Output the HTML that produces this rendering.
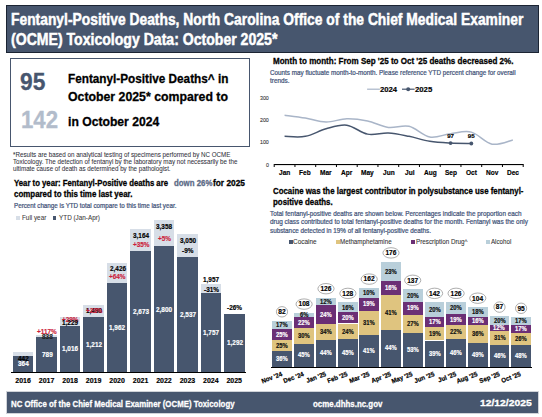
<!DOCTYPE html>
<html><head><meta charset="utf-8">
<style>
html,body{margin:0;padding:0;background:#fff;}
body{width:542px;height:417px;position:relative;overflow:hidden;font-family:"Liberation Sans",sans-serif;}
span{position:absolute;white-space:pre;line-height:1;transform-origin:0 0;}
div{position:absolute;}
svg{position:absolute;left:0;top:0;}
</style></head><body>
<div style="left:6.00px;top:5.00px;width:533.00px;height:48.00px;background:#47566e;box-sizing:border-box;border:1px solid #1b2433;"></div>
<span style="left:11.07px;top:12.00px;font-size:16.70px;font-weight:700;color:#fff;transform:scaleX(0.8295);-webkit-text-stroke:0.5px #fff;">Fentanyl-Positive Deaths, North Carolina Office of the Chief Medical Examiner</span>
<span style="left:11.00px;top:32.00px;font-size:16.70px;font-weight:700;color:#fff;transform:scaleX(0.8433);-webkit-text-stroke:0.5px #fff;">(OCME) Toxicology Data: October 2025*</span>
<div style="left:10.00px;top:58.00px;width:240.00px;height:89.00px;background:transparent;box-sizing:border-box;border:1.3px solid #47566e;"></div>
<span style="left:20.42px;top:71.00px;font-size:23.00px;font-weight:700;color:#47566e;transform:scaleX(0.9885);-webkit-text-stroke:0.3px #47566e;">95</span>
<span style="left:21.07px;top:109.00px;font-size:23.00px;font-weight:700;color:#b2bccb;transform:scaleX(0.9637);-webkit-text-stroke:0.3px #b2bccb;">142</span>
<span style="left:67.69px;top:73.00px;font-size:12.90px;font-weight:700;color:#000;transform:scaleX(0.9117);-webkit-text-stroke:0.3px #000;">Fentanyl-Positive Deaths^ in</span>
<span style="left:67.91px;top:91.00px;font-size:12.90px;font-weight:700;color:#000;transform:scaleX(0.9540);-webkit-text-stroke:0.3px #000;">October 2025* compared to</span>
<span style="left:67.55px;top:116.00px;font-size:12.90px;font-weight:700;color:#000;transform:scaleX(0.9432);-webkit-text-stroke:0.3px #000;">in October 2024</span>
<span style="left:13.08px;top:152.00px;font-size:6.60px;font-weight:400;color:#333340;transform:scaleX(0.9464);-webkit-text-stroke:0.06px #333340;">*Results are based on analytical testing of specimens performed by NC OCME</span>
<span style="left:13.38px;top:159.00px;font-size:6.60px;font-weight:400;color:#333340;transform:scaleX(0.9460);-webkit-text-stroke:0.06px #333340;">Toxicology. The detection of fentanyl by the laboratory may not necessarily be the</span>
<span style="left:12.83px;top:166.00px;font-size:6.60px;font-weight:400;color:#333340;transform:scaleX(0.9428);-webkit-text-stroke:0.06px #333340;">ultimate cause of death as determined by the pathologist.</span>
<span style="left:14.24px;top:179.00px;font-size:9.30px;font-weight:700;color:#000;transform:scaleX(0.8350);-webkit-text-stroke:0.3px #000;">Year to year: Fentanyl-Positive deaths are</span>
<span style="left:173.69px;top:179.00px;font-size:9.30px;font-weight:700;color:#5b6a86;transform:scaleX(0.8437);-webkit-text-stroke:0.3px #5b6a86;">down 26%</span>
<span style="left:213.02px;top:179.00px;font-size:9.30px;font-weight:700;color:#000;transform:scaleX(0.8942);-webkit-text-stroke:0.3px #000;">for 2025</span>
<span style="left:14.08px;top:190.00px;font-size:9.30px;font-weight:700;color:#000;transform:scaleX(0.8521);-webkit-text-stroke:0.3px #000;">compared to this time last year.</span>
<span style="left:13.70px;top:203.00px;font-size:6.30px;font-weight:400;color:#44557a;transform:scaleX(0.9922);-webkit-text-stroke:0.22px #44557a;">Percent change is YTD total compare to this time last year.</span>
<div style="left:16.20px;top:215.90px;width:3.90px;height:3.90px;background:#d7dee7;"></div>
<span style="left:22.39px;top:215.00px;font-size:6.90px;font-weight:400;color:#404040;transform:scaleX(0.9184);-webkit-text-stroke:0.08px #404040;">Full year</span>
<div style="left:52.60px;top:215.90px;width:3.70px;height:3.90px;background:#47566e;"></div>
<span style="left:58.57px;top:215.00px;font-size:6.90px;font-weight:400;color:#404040;transform:scaleX(0.9229);-webkit-text-stroke:0.08px #404040;">YTD (Jan-Apr)</span>
<div style="left:12.80px;top:352.10px;width:20.50px;height:19.90px;background:#d7dee7;"></div>
<div style="left:12.80px;top:355.80px;width:20.50px;height:16.20px;background:#47566e;"></div>
<span style="left:15.28px;top:377.00px;font-size:7.00px;font-weight:700;color:#000;-webkit-text-stroke:0.16px #000;">2016</span>
<div style="left:36.30px;top:335.20px;width:20.50px;height:36.80px;background:#d7dee7;"></div>
<div style="left:36.30px;top:336.80px;width:20.50px;height:35.20px;background:#47566e;"></div>
<span style="left:38.81px;top:377.00px;font-size:7.00px;font-weight:700;color:#000;-webkit-text-stroke:0.16px #000;">2017</span>
<div style="left:59.80px;top:316.50px;width:20.50px;height:55.50px;background:#d7dee7;"></div>
<div style="left:59.80px;top:326.00px;width:20.50px;height:46.00px;background:#47566e;"></div>
<span style="left:62.24px;top:377.00px;font-size:7.00px;font-weight:700;color:#000;-webkit-text-stroke:0.16px #000;">2018</span>
<div style="left:83.30px;top:304.90px;width:20.50px;height:67.10px;background:#d7dee7;"></div>
<div style="left:83.30px;top:317.10px;width:20.50px;height:54.90px;background:#47566e;"></div>
<span style="left:85.78px;top:377.00px;font-size:7.00px;font-weight:700;color:#000;-webkit-text-stroke:0.16px #000;">2019</span>
<div style="left:106.80px;top:262.50px;width:20.50px;height:109.50px;background:#d7dee7;"></div>
<div style="left:106.80px;top:282.70px;width:20.50px;height:89.30px;background:#47566e;"></div>
<span style="left:109.28px;top:377.00px;font-size:7.00px;font-weight:700;color:#000;-webkit-text-stroke:0.16px #000;">2020</span>
<div style="left:130.30px;top:229.00px;width:20.50px;height:143.00px;background:#d7dee7;"></div>
<div style="left:130.30px;top:251.00px;width:20.50px;height:121.00px;background:#47566e;"></div>
<span style="left:132.75px;top:377.00px;font-size:7.00px;font-weight:700;color:#000;-webkit-text-stroke:0.16px #000;">2021</span>
<div style="left:153.70px;top:220.10px;width:20.50px;height:151.90px;background:#d7dee7;"></div>
<div style="left:153.70px;top:245.60px;width:20.50px;height:126.40px;background:#47566e;"></div>
<span style="left:156.18px;top:377.00px;font-size:7.00px;font-weight:700;color:#000;-webkit-text-stroke:0.16px #000;">2022</span>
<div style="left:177.20px;top:234.20px;width:20.50px;height:137.80px;background:#d7dee7;"></div>
<div style="left:177.20px;top:257.10px;width:20.50px;height:114.90px;background:#47566e;"></div>
<span style="left:179.68px;top:377.00px;font-size:7.00px;font-weight:700;color:#000;-webkit-text-stroke:0.16px #000;">2023</span>
<div style="left:200.70px;top:283.80px;width:20.50px;height:88.20px;background:#d7dee7;"></div>
<div style="left:200.70px;top:293.00px;width:20.50px;height:79.00px;background:#47566e;"></div>
<span style="left:203.07px;top:377.00px;font-size:7.00px;font-weight:700;color:#000;-webkit-text-stroke:0.16px #000;">2024</span>
<div style="left:224.00px;top:313.80px;width:20.50px;height:58.20px;background:#47566e;"></div>
<span style="left:226.44px;top:377.00px;font-size:7.00px;font-weight:700;color:#000;-webkit-text-stroke:0.16px #000;">2025</span>
<div style="left:11.00px;top:371.80px;width:235.00px;height:1.10px;background:#000;"></div>
<span style="left:18.29px;top:356.00px;font-size:6.90px;font-weight:700;color:#000;transform:scaleX(0.9300);-webkit-text-stroke:0.16px #000;">442</span>
<span style="left:18.16px;top:361.00px;font-size:6.90px;font-weight:700;color:#fff;transform:scaleX(0.9300);-webkit-text-stroke:0.16px #fff;">364</span>
<span style="left:37.07px;top:329.00px;font-size:6.90px;font-weight:700;color:#cc1f3c;transform:scaleX(0.9300);-webkit-text-stroke:0.16px #cc1f3c;">+117%</span>
<span style="left:41.69px;top:334.00px;font-size:6.90px;font-weight:700;color:#222;transform:scaleX(0.9300);-webkit-text-stroke:0.16px #222;">838</span>
<span style="left:41.69px;top:352.00px;font-size:6.90px;font-weight:700;color:#fff;transform:scaleX(0.9300);-webkit-text-stroke:0.16px #fff;">789</span>
<span style="left:62.18px;top:317.00px;font-size:6.90px;font-weight:700;color:#cc1f3c;transform:scaleX(0.9300);-webkit-text-stroke:0.16px #cc1f3c;">+29%</span>
<span style="left:62.43px;top:320.00px;font-size:6.90px;font-weight:700;color:#000;transform:scaleX(0.9300);-webkit-text-stroke:0.16px #000;">1,229</span>
<span style="left:62.43px;top:346.00px;font-size:6.90px;font-weight:700;color:#fff;transform:scaleX(0.9300);-webkit-text-stroke:0.16px #fff;">1,016</span>
<span style="left:85.93px;top:308.00px;font-size:6.90px;font-weight:700;color:#000;transform:scaleX(0.9300);-webkit-text-stroke:0.16px #000;">1,490</span>
<span style="left:85.68px;top:308.00px;font-size:6.90px;font-weight:700;color:#cc1f3c;transform:scaleX(0.9300);-webkit-text-stroke:0.16px #cc1f3c;">+23%</span>
<span style="left:85.93px;top:342.00px;font-size:6.90px;font-weight:700;color:#fff;transform:scaleX(0.9300);-webkit-text-stroke:0.16px #fff;">1,212</span>
<span style="left:109.53px;top:266.00px;font-size:6.90px;font-weight:700;color:#000;transform:scaleX(0.9300);-webkit-text-stroke:0.16px #000;">2,426</span>
<span style="left:109.18px;top:274.00px;font-size:6.90px;font-weight:700;color:#cc1f3c;transform:scaleX(0.9300);-webkit-text-stroke:0.16px #cc1f3c;">+64%</span>
<span style="left:109.43px;top:325.00px;font-size:6.90px;font-weight:700;color:#fff;transform:scaleX(0.9300);-webkit-text-stroke:0.16px #fff;">1,962</span>
<span style="left:132.96px;top:233.00px;font-size:6.90px;font-weight:700;color:#000;transform:scaleX(0.9300);-webkit-text-stroke:0.16px #000;">3,164</span>
<span style="left:132.68px;top:242.00px;font-size:6.90px;font-weight:700;color:#cc1f3c;transform:scaleX(0.9300);-webkit-text-stroke:0.16px #cc1f3c;">+35%</span>
<span style="left:133.03px;top:309.00px;font-size:6.90px;font-weight:700;color:#fff;transform:scaleX(0.9300);-webkit-text-stroke:0.16px #fff;">2,673</span>
<span style="left:156.43px;top:224.00px;font-size:6.90px;font-weight:700;color:#000;transform:scaleX(0.9300);-webkit-text-stroke:0.16px #000;">3,358</span>
<span style="left:157.87px;top:236.00px;font-size:6.90px;font-weight:700;color:#cc1f3c;transform:scaleX(0.9300);-webkit-text-stroke:0.16px #cc1f3c;">+5%</span>
<span style="left:156.43px;top:307.00px;font-size:6.90px;font-weight:700;color:#fff;transform:scaleX(0.9300);-webkit-text-stroke:0.16px #fff;">2,800</span>
<span style="left:179.96px;top:238.00px;font-size:6.90px;font-weight:700;color:#000;transform:scaleX(0.9300);-webkit-text-stroke:0.16px #000;">3,050</span>
<span style="left:182.17px;top:248.00px;font-size:6.90px;font-weight:700;color:#000;transform:scaleX(0.9300);-webkit-text-stroke:0.16px #000;">-9%</span>
<span style="left:179.96px;top:312.00px;font-size:6.90px;font-weight:700;color:#fff;transform:scaleX(0.9300);-webkit-text-stroke:0.16px #fff;">2,537</span>
<span style="left:203.36px;top:277.00px;font-size:6.90px;font-weight:700;color:#000;transform:scaleX(0.9300);-webkit-text-stroke:0.16px #000;">1,957</span>
<span style="left:203.88px;top:287.00px;font-size:6.90px;font-weight:700;color:#000;transform:scaleX(0.9300);-webkit-text-stroke:0.16px #000;">-31%</span>
<span style="left:203.36px;top:330.00px;font-size:6.90px;font-weight:700;color:#fff;transform:scaleX(0.9300);-webkit-text-stroke:0.16px #fff;">1,757</span>
<span style="left:227.18px;top:305.00px;font-size:6.90px;font-weight:700;color:#000;transform:scaleX(0.9300);-webkit-text-stroke:0.16px #000;">-26%</span>
<span style="left:226.63px;top:340.00px;font-size:6.90px;font-weight:700;color:#fff;transform:scaleX(0.9300);-webkit-text-stroke:0.16px #fff;">1,292</span>
<div style="left:6.00px;top:391.00px;width:533.00px;height:22.60px;background:#47566e;box-sizing:border-box;border:0.7px solid #d0d3d8;"></div>
<span style="left:10.63px;top:399.00px;font-size:9.80px;font-weight:700;color:#fff;transform:scaleX(0.8010);-webkit-text-stroke:0.3px #fff;">NC Office of the Chief Medical Examiner (OCME) Toxicology</span>
<span style="left:313.28px;top:399.00px;font-size:9.80px;font-weight:700;color:#fff;transform:scaleX(0.8065);-webkit-text-stroke:0.3px #fff;">ocme.dhhs.nc.gov</span>
<span style="left:480.38px;top:398.00px;font-size:9.40px;font-weight:700;color:#fff;transform:scaleX(1.1028);-webkit-text-stroke:0.3px #fff;">12/12/2025</span>
<svg width="542" height="417" viewBox="0 0 542 417">
<path d="M284.57,115.15 C288.03,115.63 298.41,116.90 305.32,118.05 C312.24,119.21 319.16,121.96 326.07,122.07 C332.99,122.18 339.91,118.91 346.82,118.72 C353.74,118.54 360.66,119.51 367.57,120.96 C374.49,122.41 381.41,126.54 388.32,127.43 C395.24,128.33 402.16,124.72 409.07,126.32 C415.99,127.92 422.91,135.81 429.82,137.03 C436.74,138.26 443.66,134.50 450.57,133.68 C457.49,132.87 464.41,130.37 471.32,132.12 C478.24,133.87 485.16,142.88 492.07,144.18 C498.99,145.48 509.37,140.64 512.83,139.94" fill="none" stroke="#a9b5c8" stroke-width="1.5"/>
<path d="M284.57,136.36 C288.03,136.36 298.41,137.63 305.32,136.36 C312.24,135.10 319.16,130.63 326.07,128.77 C332.99,126.91 339.91,124.31 346.82,125.20 C353.74,126.09 360.66,132.83 367.57,134.13 C374.49,135.43 381.41,132.64 388.32,133.01 C395.24,133.39 402.16,134.99 409.07,136.36 C415.99,137.74 422.91,140.16 429.82,141.28 C436.74,142.39 443.66,142.69 450.57,143.06 C457.49,143.44 467.87,143.44 471.32,143.51" fill="none" stroke="#47566e" stroke-width="1.5"/>
<circle cx="450.57" cy="143.06" r="1.9" fill="#47566e"/>
<circle cx="471.32" cy="143.51" r="1.9" fill="#47566e"/>
<rect x="274.20" y="164.00" width="249.00" height="1.1" fill="#000"/>
<rect x="273.70" y="164.00" width="1" height="3" fill="#000"/>
<rect x="294.45" y="164.00" width="1" height="3" fill="#000"/>
<rect x="315.20" y="164.00" width="1" height="3" fill="#000"/>
<rect x="335.95" y="164.00" width="1" height="3" fill="#000"/>
<rect x="356.70" y="164.00" width="1" height="3" fill="#000"/>
<rect x="377.45" y="164.00" width="1" height="3" fill="#000"/>
<rect x="398.20" y="164.00" width="1" height="3" fill="#000"/>
<rect x="418.95" y="164.00" width="1" height="3" fill="#000"/>
<rect x="439.70" y="164.00" width="1" height="3" fill="#000"/>
<rect x="460.45" y="164.00" width="1" height="3" fill="#000"/>
<rect x="481.20" y="164.00" width="1" height="3" fill="#000"/>
<rect x="501.95" y="164.00" width="1" height="3" fill="#000"/>
<rect x="522.70" y="164.00" width="1" height="3" fill="#000"/>
<rect x="367.1" y="88.6" width="12.8" height="1.2" fill="#a9b5c8"/>
<rect x="402" y="88.6" width="12.6" height="1.2" fill="#47566e"/>
<circle cx="408.2" cy="89.2" r="2.0" fill="#47566e"/>
<ellipse cx="282.00" cy="311.80" rx="5.60" ry="5.2" fill="#fff" stroke="#8a8a8a" stroke-width="0.7"/>
<ellipse cx="304.10" cy="304.10" rx="8.10" ry="5.2" fill="#fff" stroke="#8a8a8a" stroke-width="0.7"/>
<ellipse cx="326.00" cy="288.70" rx="8.10" ry="5.2" fill="#fff" stroke="#8a8a8a" stroke-width="0.7"/>
<ellipse cx="347.90" cy="293.40" rx="8.10" ry="5.2" fill="#fff" stroke="#8a8a8a" stroke-width="0.7"/>
<ellipse cx="369.20" cy="279.10" rx="8.10" ry="5.2" fill="#fff" stroke="#8a8a8a" stroke-width="0.7"/>
<ellipse cx="391.00" cy="252.90" rx="8.10" ry="5.2" fill="#fff" stroke="#8a8a8a" stroke-width="0.7"/>
<ellipse cx="412.70" cy="280.30" rx="8.10" ry="5.2" fill="#fff" stroke="#8a8a8a" stroke-width="0.7"/>
<ellipse cx="434.60" cy="293.35" rx="8.10" ry="5.2" fill="#fff" stroke="#8a8a8a" stroke-width="0.7"/>
<ellipse cx="456.10" cy="293.35" rx="8.10" ry="5.2" fill="#fff" stroke="#8a8a8a" stroke-width="0.7"/>
<ellipse cx="477.80" cy="298.20" rx="8.10" ry="5.2" fill="#fff" stroke="#8a8a8a" stroke-width="0.7"/>
<ellipse cx="499.50" cy="307.10" rx="5.60" ry="5.2" fill="#fff" stroke="#8a8a8a" stroke-width="0.7"/>
<ellipse cx="521.10" cy="308.30" rx="5.60" ry="5.2" fill="#fff" stroke="#8a8a8a" stroke-width="0.7"/>
</svg>
<span style="left:272.72px;top:56.00px;font-size:9.70px;font-weight:700;color:#000;transform:scaleX(0.8292);-webkit-text-stroke:0.3px #000;">Month to month: From Sep '25 to Oct '25 deaths decreased 2%.</span>
<span style="left:269.58px;top:70.00px;font-size:6.60px;font-weight:400;color:#44557a;transform:scaleX(0.9564);-webkit-text-stroke:0.22px #44557a;">Counts may fluctuate month-to-month. Please reference YTD percent change for overall</span>
<span style="left:269.84px;top:78.00px;font-size:6.60px;font-weight:400;color:#44557a;transform:scaleX(0.9674);-webkit-text-stroke:0.22px #44557a;">trends.</span>
<span style="left:380.27px;top:86.00px;font-size:7.00px;font-weight:700;color:#000;transform:scaleX(1.0959);-webkit-text-stroke:0.16px #000;">2024</span>
<span style="left:415.27px;top:86.00px;font-size:7.00px;font-weight:700;color:#000;transform:scaleX(1.1060);-webkit-text-stroke:0.16px #000;">2025</span>
<span style="left:259.99px;top:95.00px;font-size:6.00px;font-weight:400;color:#333;transform:scaleX(0.8800);-webkit-text-stroke:0.1px #333;">300</span>
<span style="left:259.99px;top:117.00px;font-size:6.00px;font-weight:400;color:#333;transform:scaleX(0.8800);-webkit-text-stroke:0.1px #333;">200</span>
<span style="left:259.99px;top:139.00px;font-size:6.00px;font-weight:400;color:#333;transform:scaleX(0.8800);-webkit-text-stroke:0.1px #333;">100</span>
<span style="left:265.85px;top:162.00px;font-size:6.00px;font-weight:400;color:#333;transform:scaleX(0.8800);-webkit-text-stroke:0.1px #333;">0</span>
<span style="left:279.10px;top:170.00px;font-size:6.90px;font-weight:700;color:#000;transform:scaleX(0.9500);-webkit-text-stroke:0.16px #000;">Jan</span>
<span style="left:299.43px;top:170.00px;font-size:6.90px;font-weight:700;color:#000;transform:scaleX(0.9500);-webkit-text-stroke:0.16px #000;">Feb</span>
<span style="left:320.08px;top:170.00px;font-size:6.90px;font-weight:700;color:#000;transform:scaleX(0.9500);-webkit-text-stroke:0.16px #000;">Mar</span>
<span style="left:341.15px;top:170.00px;font-size:6.90px;font-weight:700;color:#000;transform:scaleX(0.9500);-webkit-text-stroke:0.16px #000;">Apr</span>
<span style="left:361.02px;top:170.00px;font-size:6.90px;font-weight:700;color:#000;transform:scaleX(0.9500);-webkit-text-stroke:0.16px #000;">May</span>
<span style="left:382.65px;top:170.00px;font-size:6.90px;font-weight:700;color:#000;transform:scaleX(0.9500);-webkit-text-stroke:0.16px #000;">Jun</span>
<span style="left:404.52px;top:170.00px;font-size:6.90px;font-weight:700;color:#000;transform:scaleX(0.9500);-webkit-text-stroke:0.16px #000;">Jul</span>
<span style="left:423.60px;top:170.00px;font-size:6.90px;font-weight:700;color:#000;transform:scaleX(0.9500);-webkit-text-stroke:0.16px #000;">Aug</span>
<span style="left:444.61px;top:170.00px;font-size:6.90px;font-weight:700;color:#000;transform:scaleX(0.9500);-webkit-text-stroke:0.16px #000;">Sep</span>
<span style="left:465.79px;top:170.00px;font-size:6.90px;font-weight:700;color:#000;transform:scaleX(0.9500);-webkit-text-stroke:0.16px #000;">Oct</span>
<span style="left:485.72px;top:170.00px;font-size:6.90px;font-weight:700;color:#000;transform:scaleX(0.9500);-webkit-text-stroke:0.16px #000;">Nov</span>
<span style="left:506.70px;top:170.00px;font-size:6.90px;font-weight:700;color:#000;transform:scaleX(0.9500);-webkit-text-stroke:0.16px #000;">Dec</span>
<span style="left:447.17px;top:133.00px;font-size:6.20px;font-weight:700;color:#000;-webkit-text-stroke:0.16px #000;">97</span>
<span style="left:467.85px;top:133.00px;font-size:6.20px;font-weight:700;color:#000;-webkit-text-stroke:0.16px #000;">95</span>
<span style="left:272.69px;top:186.00px;font-size:9.60px;font-weight:700;color:#000;transform:scaleX(0.8184);-webkit-text-stroke:0.3px #000;">Cocaine was the largest contributor in polysubstance use fentanyl-</span>
<span style="left:272.53px;top:197.00px;font-size:9.60px;font-weight:700;color:#000;transform:scaleX(0.8230);-webkit-text-stroke:0.3px #000;">positive deaths.</span>
<span style="left:270.47px;top:211.00px;font-size:6.60px;font-weight:400;color:#44557a;transform:scaleX(0.9680);-webkit-text-stroke:0.22px #44557a;">Total fentanyl-positive deaths are shown below. Percentages indicate the proportion each</span>
<span style="left:270.34px;top:219.00px;font-size:6.60px;font-weight:400;color:#44557a;transform:scaleX(0.9717);-webkit-text-stroke:0.22px #44557a;">drug class contributed to total fentanyl-positive deaths for the month. Fentanyl was the only</span>
<span style="left:270.41px;top:228.00px;font-size:6.60px;font-weight:400;color:#44557a;transform:scaleX(0.9585);-webkit-text-stroke:0.22px #44557a;">substance detected in 19% of all fentanyl-positive deaths.</span>
<div style="left:288.80px;top:240.10px;width:4.00px;height:4.00px;background:#47566e;"></div>
<span style="left:293.18px;top:239.00px;font-size:6.60px;font-weight:400;color:#333;transform:scaleX(0.9761);-webkit-text-stroke:0.08px #333;">Cocaine</span>
<div style="left:335.90px;top:240.10px;width:4.00px;height:4.00px;background:#dfc47f;"></div>
<span style="left:340.00px;top:239.00px;font-size:6.60px;font-weight:400;color:#333;transform:scaleX(0.9451);-webkit-text-stroke:0.08px #333;">Methamphetamine</span>
<div style="left:410.70px;top:240.10px;width:4.00px;height:4.00px;background:#6b2f75;"></div>
<span style="left:415.50px;top:239.00px;font-size:6.60px;font-weight:400;color:#333;transform:scaleX(0.9521);-webkit-text-stroke:0.08px #333;">Prescription Drug^</span>
<div style="left:485.50px;top:240.10px;width:4.00px;height:4.00px;background:#b9cfda;"></div>
<span style="left:490.80px;top:239.00px;font-size:6.60px;font-weight:400;color:#333;transform:scaleX(0.9364);-webkit-text-stroke:0.08px #333;">Alcohol</span>
<div style="left:272.10px;top:320.70px;width:19.80px;height:8.60px;background:#b9cfda;"></div>
<div style="left:272.10px;top:329.30px;width:19.80px;height:10.90px;background:#6b2f75;"></div>
<div style="left:272.10px;top:340.20px;width:19.80px;height:11.10px;background:#dfc47f;"></div>
<div style="left:272.10px;top:351.30px;width:19.80px;height:15.30px;background:#47566e;"></div>
<span style="left:275.99px;top:322.00px;font-size:6.40px;font-weight:700;color:#111;transform:scaleX(0.9200);-webkit-text-stroke:0.16px #111;">17%</span>
<span style="left:276.08px;top:332.00px;font-size:6.40px;font-weight:700;color:#fff;transform:scaleX(0.9200);-webkit-text-stroke:0.16px #fff;">25%</span>
<span style="left:276.08px;top:343.00px;font-size:6.40px;font-weight:700;color:#111;transform:scaleX(0.9200);-webkit-text-stroke:0.16px #111;">25%</span>
<span style="left:276.11px;top:356.00px;font-size:6.40px;font-weight:700;color:#fff;transform:scaleX(0.9200);-webkit-text-stroke:0.16px #fff;">36%</span>
<span style="left:278.34px;top:309.00px;font-size:6.60px;font-weight:700;color:#000;-webkit-text-stroke:0.16px #000;">82</span>
<span style="left:257.84px;top:370.60px;width:22.86px;font-size:6.5px;font-weight:700;color:#000;transform-origin:100% 0;transform:rotate(-21deg) scaleX(0.95);-webkit-text-stroke:0.2px #000;">Nov '24</span>
<div style="left:294.20px;top:313.00px;width:19.80px;height:3.80px;background:#b9cfda;"></div>
<div style="left:294.20px;top:316.80px;width:19.80px;height:11.10px;background:#6b2f75;"></div>
<div style="left:294.20px;top:327.90px;width:19.80px;height:15.70px;background:#dfc47f;"></div>
<div style="left:294.20px;top:343.60px;width:19.80px;height:23.00px;background:#47566e;"></div>
<span style="left:299.80px;top:312.00px;font-size:6.40px;font-weight:700;color:#111;transform:scaleX(0.9200);-webkit-text-stroke:0.16px #111;">6%</span>
<span style="left:298.18px;top:320.00px;font-size:6.40px;font-weight:700;color:#fff;transform:scaleX(0.9200);-webkit-text-stroke:0.16px #fff;">22%</span>
<span style="left:298.21px;top:333.00px;font-size:6.40px;font-weight:700;color:#111;transform:scaleX(0.9200);-webkit-text-stroke:0.16px #111;">30%</span>
<span style="left:298.24px;top:352.00px;font-size:6.40px;font-weight:700;color:#fff;transform:scaleX(0.9200);-webkit-text-stroke:0.16px #fff;">45%</span>
<span style="left:298.49px;top:301.00px;font-size:6.60px;font-weight:700;color:#000;-webkit-text-stroke:0.16px #000;">108</span>
<span style="left:280.30px;top:370.60px;width:22.50px;font-size:6.5px;font-weight:700;color:#000;transform-origin:100% 0;transform:rotate(-21deg) scaleX(0.95);-webkit-text-stroke:0.2px #000;">Dec '24</span>
<div style="left:316.10px;top:297.60px;width:19.80px;height:7.80px;background:#b9cfda;"></div>
<div style="left:316.10px;top:305.40px;width:19.80px;height:18.70px;background:#6b2f75;"></div>
<div style="left:316.10px;top:324.10px;width:19.80px;height:15.60px;background:#dfc47f;"></div>
<div style="left:316.10px;top:339.70px;width:19.80px;height:26.90px;background:#47566e;"></div>
<span style="left:319.99px;top:299.00px;font-size:6.40px;font-weight:700;color:#111;transform:scaleX(0.9200);-webkit-text-stroke:0.16px #111;">12%</span>
<span style="left:320.08px;top:312.00px;font-size:6.40px;font-weight:700;color:#fff;transform:scaleX(0.9200);-webkit-text-stroke:0.16px #fff;">24%</span>
<span style="left:320.11px;top:329.00px;font-size:6.40px;font-weight:700;color:#111;transform:scaleX(0.9200);-webkit-text-stroke:0.16px #111;">34%</span>
<span style="left:320.14px;top:350.00px;font-size:6.40px;font-weight:700;color:#fff;transform:scaleX(0.9200);-webkit-text-stroke:0.16px #fff;">44%</span>
<span style="left:320.42px;top:286.00px;font-size:6.60px;font-weight:700;color:#000;-webkit-text-stroke:0.16px #000;">126</span>
<span style="left:302.92px;top:370.60px;width:21.78px;font-size:6.5px;font-weight:700;color:#000;transform-origin:100% 0;transform:rotate(-21deg) scaleX(0.95);-webkit-text-stroke:0.2px #000;">Jan '25</span>
<div style="left:338.00px;top:302.30px;width:19.80px;height:10.00px;background:#b9cfda;"></div>
<div style="left:338.00px;top:312.30px;width:19.80px;height:11.20px;background:#6b2f75;"></div>
<div style="left:338.00px;top:323.50px;width:19.80px;height:15.60px;background:#dfc47f;"></div>
<div style="left:338.00px;top:339.10px;width:19.80px;height:27.50px;background:#47566e;"></div>
<span style="left:341.89px;top:305.00px;font-size:6.40px;font-weight:700;color:#111;transform:scaleX(0.9200);-webkit-text-stroke:0.16px #111;">16%</span>
<span style="left:341.98px;top:315.00px;font-size:6.40px;font-weight:700;color:#fff;transform:scaleX(0.9200);-webkit-text-stroke:0.16px #fff;">20%</span>
<span style="left:341.98px;top:329.00px;font-size:6.40px;font-weight:700;color:#111;transform:scaleX(0.9200);-webkit-text-stroke:0.16px #111;">24%</span>
<span style="left:342.04px;top:350.00px;font-size:6.40px;font-weight:700;color:#fff;transform:scaleX(0.9200);-webkit-text-stroke:0.16px #fff;">45%</span>
<span style="left:342.29px;top:291.00px;font-size:6.60px;font-weight:700;color:#000;-webkit-text-stroke:0.16px #000;">128</span>
<span style="left:324.46px;top:370.60px;width:22.14px;font-size:6.5px;font-weight:700;color:#000;transform-origin:100% 0;transform:rotate(-21deg) scaleX(0.95);-webkit-text-stroke:0.2px #000;">Feb '25</span>
<div style="left:359.30px;top:288.00px;width:19.80px;height:9.50px;background:#b9cfda;"></div>
<div style="left:359.30px;top:297.50px;width:19.80px;height:13.30px;background:#6b2f75;"></div>
<div style="left:359.30px;top:310.80px;width:19.80px;height:24.00px;background:#dfc47f;"></div>
<div style="left:359.30px;top:334.80px;width:19.80px;height:31.80px;background:#47566e;"></div>
<span style="left:363.19px;top:290.00px;font-size:6.40px;font-weight:700;color:#111;transform:scaleX(0.9200);-webkit-text-stroke:0.16px #111;">10%</span>
<span style="left:363.19px;top:301.00px;font-size:6.40px;font-weight:700;color:#fff;transform:scaleX(0.9200);-webkit-text-stroke:0.16px #fff;">19%</span>
<span style="left:363.31px;top:320.00px;font-size:6.40px;font-weight:700;color:#111;transform:scaleX(0.9200);-webkit-text-stroke:0.16px #111;">31%</span>
<span style="left:363.34px;top:348.00px;font-size:6.40px;font-weight:700;color:#fff;transform:scaleX(0.9200);-webkit-text-stroke:0.16px #fff;">41%</span>
<span style="left:363.62px;top:276.00px;font-size:6.60px;font-weight:700;color:#000;-webkit-text-stroke:0.16px #000;">162</span>
<span style="left:345.76px;top:370.60px;width:22.14px;font-size:6.5px;font-weight:700;color:#000;transform-origin:100% 0;transform:rotate(-21deg) scaleX(0.95);-webkit-text-stroke:0.2px #000;">Mar '25</span>
<div style="left:381.10px;top:261.80px;width:19.80px;height:19.20px;background:#b9cfda;"></div>
<div style="left:381.10px;top:281.00px;width:19.80px;height:14.20px;background:#6b2f75;"></div>
<div style="left:381.10px;top:295.20px;width:19.80px;height:34.40px;background:#dfc47f;"></div>
<div style="left:381.10px;top:329.60px;width:19.80px;height:37.00px;background:#47566e;"></div>
<span style="left:385.08px;top:269.00px;font-size:6.40px;font-weight:700;color:#111;transform:scaleX(0.9200);-webkit-text-stroke:0.16px #111;">23%</span>
<span style="left:384.99px;top:285.00px;font-size:6.40px;font-weight:700;color:#fff;transform:scaleX(0.9200);-webkit-text-stroke:0.16px #fff;">16%</span>
<span style="left:385.14px;top:310.00px;font-size:6.40px;font-weight:700;color:#111;transform:scaleX(0.9200);-webkit-text-stroke:0.16px #111;">41%</span>
<span style="left:385.14px;top:345.00px;font-size:6.40px;font-weight:700;color:#fff;transform:scaleX(0.9200);-webkit-text-stroke:0.16px #fff;">44%</span>
<span style="left:385.42px;top:250.00px;font-size:6.60px;font-weight:700;color:#000;-webkit-text-stroke:0.16px #000;">176</span>
<span style="left:367.93px;top:370.60px;width:21.78px;font-size:6.5px;font-weight:700;color:#000;transform-origin:100% 0;transform:rotate(-21deg) scaleX(0.95);-webkit-text-stroke:0.2px #000;">Apr '25</span>
<div style="left:402.80px;top:289.20px;width:19.80px;height:12.80px;background:#b9cfda;"></div>
<div style="left:402.80px;top:302.00px;width:19.80px;height:12.50px;background:#6b2f75;"></div>
<div style="left:402.80px;top:314.50px;width:19.80px;height:18.20px;background:#dfc47f;"></div>
<div style="left:402.80px;top:332.70px;width:19.80px;height:33.90px;background:#47566e;"></div>
<span style="left:406.78px;top:293.00px;font-size:6.40px;font-weight:700;color:#111;transform:scaleX(0.9200);-webkit-text-stroke:0.16px #111;">20%</span>
<span style="left:406.69px;top:305.00px;font-size:6.40px;font-weight:700;color:#fff;transform:scaleX(0.9200);-webkit-text-stroke:0.16px #fff;">19%</span>
<span style="left:406.78px;top:321.00px;font-size:6.40px;font-weight:700;color:#111;transform:scaleX(0.9200);-webkit-text-stroke:0.16px #111;">27%</span>
<span style="left:406.78px;top:347.00px;font-size:6.40px;font-weight:700;color:#fff;transform:scaleX(0.9200);-webkit-text-stroke:0.16px #fff;">53%</span>
<span style="left:407.16px;top:278.00px;font-size:6.60px;font-weight:700;color:#000;-webkit-text-stroke:0.16px #000;">137</span>
<span style="left:388.18px;top:370.60px;width:23.22px;font-size:6.5px;font-weight:700;color:#000;transform-origin:100% 0;transform:rotate(-21deg) scaleX(0.95);-webkit-text-stroke:0.2px #000;">May '25</span>
<div style="left:424.70px;top:302.25px;width:19.80px;height:14.55px;background:#b9cfda;"></div>
<div style="left:424.70px;top:316.80px;width:19.80px;height:10.00px;background:#6b2f75;"></div>
<div style="left:424.70px;top:326.80px;width:19.80px;height:13.70px;background:#dfc47f;"></div>
<div style="left:424.70px;top:340.50px;width:19.80px;height:26.10px;background:#47566e;"></div>
<span style="left:428.68px;top:307.00px;font-size:6.40px;font-weight:700;color:#111;transform:scaleX(0.9200);-webkit-text-stroke:0.16px #111;">20%</span>
<span style="left:428.59px;top:319.00px;font-size:6.40px;font-weight:700;color:#fff;transform:scaleX(0.9200);-webkit-text-stroke:0.16px #fff;">17%</span>
<span style="left:428.59px;top:331.00px;font-size:6.40px;font-weight:700;color:#111;transform:scaleX(0.9200);-webkit-text-stroke:0.16px #111;">19%</span>
<span style="left:428.71px;top:351.00px;font-size:6.40px;font-weight:700;color:#fff;transform:scaleX(0.9200);-webkit-text-stroke:0.16px #fff;">39%</span>
<span style="left:429.02px;top:291.00px;font-size:6.60px;font-weight:700;color:#000;-webkit-text-stroke:0.16px #000;">142</span>
<span style="left:411.16px;top:370.60px;width:22.14px;font-size:6.5px;font-weight:700;color:#000;transform-origin:100% 0;transform:rotate(-21deg) scaleX(0.95);-webkit-text-stroke:0.2px #000;">Jun '25</span>
<div style="left:446.20px;top:302.25px;width:19.80px;height:11.85px;background:#b9cfda;"></div>
<div style="left:446.20px;top:314.10px;width:19.80px;height:10.60px;background:#6b2f75;"></div>
<div style="left:446.20px;top:324.70px;width:19.80px;height:14.50px;background:#dfc47f;"></div>
<div style="left:446.20px;top:339.20px;width:19.80px;height:27.40px;background:#47566e;"></div>
<span style="left:450.18px;top:305.00px;font-size:6.40px;font-weight:700;color:#111;transform:scaleX(0.9200);-webkit-text-stroke:0.16px #111;">20%</span>
<span style="left:450.09px;top:317.00px;font-size:6.40px;font-weight:700;color:#fff;transform:scaleX(0.9200);-webkit-text-stroke:0.16px #fff;">19%</span>
<span style="left:450.18px;top:329.00px;font-size:6.40px;font-weight:700;color:#111;transform:scaleX(0.9200);-webkit-text-stroke:0.16px #111;">22%</span>
<span style="left:450.24px;top:350.00px;font-size:6.40px;font-weight:700;color:#fff;transform:scaleX(0.9200);-webkit-text-stroke:0.16px #fff;">46%</span>
<span style="left:450.52px;top:291.00px;font-size:6.60px;font-weight:700;color:#000;-webkit-text-stroke:0.16px #000;">126</span>
<span style="left:434.83px;top:370.60px;width:19.97px;font-size:6.5px;font-weight:700;color:#000;transform-origin:100% 0;transform:rotate(-21deg) scaleX(0.95);-webkit-text-stroke:0.2px #000;">Jul '25</span>
<div style="left:467.90px;top:307.10px;width:19.80px;height:9.60px;background:#b9cfda;"></div>
<div style="left:467.90px;top:316.70px;width:19.80px;height:7.90px;background:#6b2f75;"></div>
<div style="left:467.90px;top:324.60px;width:19.80px;height:18.00px;background:#dfc47f;"></div>
<div style="left:467.90px;top:342.60px;width:19.80px;height:24.00px;background:#47566e;"></div>
<span style="left:471.79px;top:309.00px;font-size:6.40px;font-weight:700;color:#111;transform:scaleX(0.9200);-webkit-text-stroke:0.16px #111;">18%</span>
<span style="left:471.79px;top:318.00px;font-size:6.40px;font-weight:700;color:#fff;transform:scaleX(0.9200);-webkit-text-stroke:0.16px #fff;">16%</span>
<span style="left:471.91px;top:331.00px;font-size:6.40px;font-weight:700;color:#111;transform:scaleX(0.9200);-webkit-text-stroke:0.16px #111;">36%</span>
<span style="left:471.94px;top:352.00px;font-size:6.40px;font-weight:700;color:#fff;transform:scaleX(0.9200);-webkit-text-stroke:0.16px #fff;">49%</span>
<span style="left:472.12px;top:296.00px;font-size:6.60px;font-weight:700;color:#000;-webkit-text-stroke:0.16px #000;">104</span>
<span style="left:453.28px;top:370.60px;width:23.22px;font-size:6.5px;font-weight:700;color:#000;transform-origin:100% 0;transform:rotate(-21deg) scaleX(0.95);-webkit-text-stroke:0.2px #000;">Aug '25</span>
<div style="left:489.60px;top:316.00px;width:19.80px;height:9.10px;background:#b9cfda;"></div>
<div style="left:489.60px;top:325.10px;width:19.80px;height:5.50px;background:#6b2f75;"></div>
<div style="left:489.60px;top:330.60px;width:19.80px;height:14.80px;background:#dfc47f;"></div>
<div style="left:489.60px;top:345.40px;width:19.80px;height:21.20px;background:#47566e;"></div>
<span style="left:493.58px;top:318.00px;font-size:6.40px;font-weight:700;color:#111;transform:scaleX(0.9200);-webkit-text-stroke:0.16px #111;">20%</span>
<span style="left:493.49px;top:325.00px;font-size:6.40px;font-weight:700;color:#fff;transform:scaleX(0.9200);-webkit-text-stroke:0.16px #fff;">12%</span>
<span style="left:493.61px;top:335.00px;font-size:6.40px;font-weight:700;color:#111;transform:scaleX(0.9200);-webkit-text-stroke:0.16px #111;">31%</span>
<span style="left:493.64px;top:353.00px;font-size:6.40px;font-weight:700;color:#fff;transform:scaleX(0.9200);-webkit-text-stroke:0.16px #fff;">46%</span>
<span style="left:495.87px;top:304.00px;font-size:6.60px;font-weight:700;color:#000;-webkit-text-stroke:0.16px #000;">87</span>
<span style="left:475.70px;top:370.60px;width:22.50px;font-size:6.5px;font-weight:700;color:#000;transform-origin:100% 0;transform:rotate(-21deg) scaleX(0.95);-webkit-text-stroke:0.2px #000;">Sep '25</span>
<div style="left:511.20px;top:317.20px;width:19.80px;height:7.90px;background:#b9cfda;"></div>
<div style="left:511.20px;top:325.10px;width:19.80px;height:7.90px;background:#6b2f75;"></div>
<div style="left:511.20px;top:333.00px;width:19.80px;height:12.00px;background:#dfc47f;"></div>
<div style="left:511.20px;top:345.00px;width:19.80px;height:21.60px;background:#47566e;"></div>
<span style="left:515.09px;top:318.00px;font-size:6.40px;font-weight:700;color:#111;transform:scaleX(0.9200);-webkit-text-stroke:0.16px #111;">17%</span>
<span style="left:515.09px;top:326.00px;font-size:6.40px;font-weight:700;color:#fff;transform:scaleX(0.9200);-webkit-text-stroke:0.16px #fff;">17%</span>
<span style="left:515.18px;top:336.00px;font-size:6.40px;font-weight:700;color:#111;transform:scaleX(0.9200);-webkit-text-stroke:0.16px #111;">26%</span>
<span style="left:515.24px;top:353.00px;font-size:6.40px;font-weight:700;color:#fff;transform:scaleX(0.9200);-webkit-text-stroke:0.16px #fff;">48%</span>
<span style="left:517.40px;top:306.00px;font-size:6.60px;font-weight:700;color:#000;-webkit-text-stroke:0.16px #000;">95</span>
<span style="left:498.38px;top:370.60px;width:21.42px;font-size:6.5px;font-weight:700;color:#000;transform-origin:100% 0;transform:rotate(-21deg) scaleX(0.95);-webkit-text-stroke:0.2px #000;">Oct '25</span>
<div style="left:271.20px;top:366.60px;width:260.80px;height:1.10px;background:#000;"></div>
</body></html>
